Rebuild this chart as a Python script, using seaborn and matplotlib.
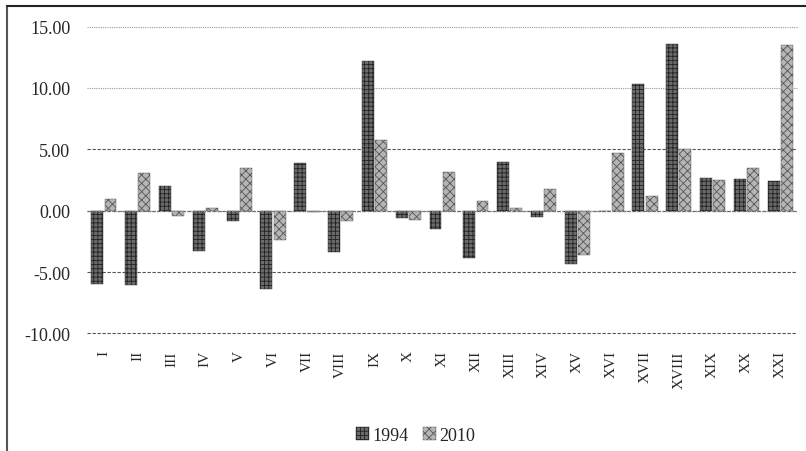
import pandas as pd
import numpy as np
import matplotlib
matplotlib.use('Agg')
import matplotlib.pyplot as plt
from matplotlib.patches import Patch
from matplotlib.lines import Line2D
import seaborn as sns

# Values
regions = ['I', 'II', 'III', 'IV', 'V', 'VI', 'VII', 'VIII', 'IX', 'X', 'XI',
           'XII', 'XIII', 'XIV', 'XV', 'XVI', 'XVII', 'XVIII', 'XIX', 'XX', 'XXI']
vals_1994 = [-6.0, -6.05, 2.04, -3.3, -0.8, -6.35, 3.86, -3.39, 12.2, -0.6, -1.49,
             -3.85, 3.94, -0.54, -4.34, 0.0, 10.3, 13.57, 2.66, 2.58, 2.39]
vals_2010 = [0.95, 3.07, -0.4, 0.2, 3.47, -2.36, -0.1, -0.86, 5.76, -0.76, 3.13,
             0.76, 0.2, 1.77, -3.6, 4.7, 1.2, 5.02, 2.5, 3.48, 13.5]
years = ['1994', '2010']
yticks = [-10, -5, 0, 5, 10, 15]

df = pd.DataFrame({
    'region': regions * 2,
    'year': [years[0]] * len(regions) + [years[1]] * len(regions),
    'value': vals_1994 + vals_2010,
})

sns.set_style('white')
plt.rcParams['font.family'] = ['Liberation Serif', 'DejaVu Serif']
plt.rcParams['hatch.linewidth'] = 0.6

STYLE = {
    '1994': dict(face='#6a6a6a', edge='#222222', hatch='++++'),
    '2010': dict(face='#b5b5b5', edge='#555555', hatch='xxxx'),
}

fig = plt.figure(figsize=(8.06, 4.52), dpi=100)
ax = fig.add_axes([0.108, 0.26, 0.881, 0.679])

sns.barplot(data=df, x='region', y='value', hue='year', order=regions,
            hue_order=years, width=0.78, gap=0.1, ax=ax, legend=False,
            palette=[STYLE[y]['face'] for y in years])

for cont, yr in zip(ax.containers, years):
    for p in cont.patches:
        p.set_facecolor(STYLE[yr]['face'])
        p.set_edgecolor(STYLE[yr]['edge'])
        p.set_hatch(STYLE[yr]['hatch'])
        p.set_linewidth(0.3)

ax.set_ylim(-10, 15)
ax.set_yticks(yticks)
ax.set_yticklabels([f'{t:.2f}' for t in yticks], fontsize=13)
ax.set_xlim(-0.5, len(regions) - 0.5)
ax.grid(axis='y', linestyle=(0, (3, 1.5)), color='#555555', linewidth=0.8)
# upper gridlines are finer dotted in the original
for t, gl in zip(yticks, ax.get_ygridlines()):
    gl.set_clip_on(False)
    if t >= 10:
        gl.set_linestyle((0, (1, 1)))
        gl.set_color('#999999')
ax.axhline(0, color='#888888', linestyle=(0, (1, 1)), linewidth=1.0, zorder=3)
ax.set_axisbelow(True)
for s in ax.spines.values():
    s.set_visible(False)
ax.tick_params(axis='y', length=0, pad=12)
ax.tick_params(axis='x', length=0, pad=12)
plt.setp(ax.get_xticklabels(), rotation=90, fontsize=11)
ax.set_xlabel('')
ax.set_ylabel('')

handles = [Patch(facecolor=STYLE[y]['face'], edgecolor=STYLE[y]['edge'],
                 hatch=STYLE[y]['hatch'], linewidth=0.3, label=y) for y in years]
fig.legend(handles=handles, loc='center', bbox_to_anchor=(0.516, 0.034),
           ncol=2, frameon=False, fontsize=13, handlelength=0.7,
           handleheight=0.7, handletextpad=0.2, columnspacing=0.8)

# chart-area border (top and left visible in the crop)
fig.add_artist(Line2D([0.009, 0.009], [0.0, 0.985], transform=fig.transFigure,
                      color='#555555', linewidth=1.5))
fig.add_artist(Line2D([0.009, 1.0], [0.985, 0.985], transform=fig.transFigure,
                      color='#222222', linewidth=1.5))

fig.savefig('out.png', dpi=100)
